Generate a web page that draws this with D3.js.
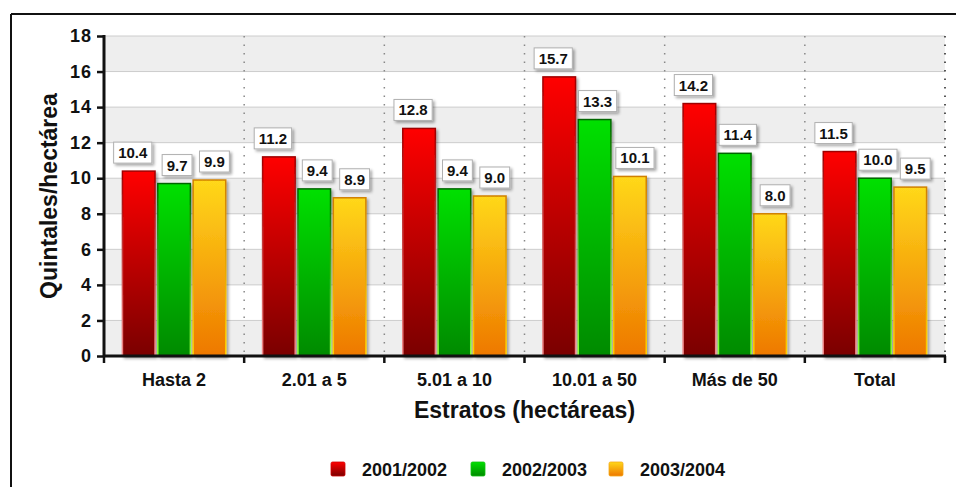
<!DOCTYPE html>
<html>
<head>
<meta charset="utf-8">
<script src="https://cdn.jsdelivr.net/npm/d3@7/dist/d3.min.js"></script>
<style>
  html, body { margin: 0; padding: 0; background: #fff; }
  svg { display: block; }
  text { font-family: "Liberation Sans", Arial, sans-serif; font-weight: bold; fill: #111; }
</style>
</head>
<body>
<svg id="chart" width="956" height="487"></svg>
<script>
// Rendimiento por estrato (quintales por hectárea)
const categories = ["Hasta 2", "2.01 a 5", "5.01 a 10", "10.01 a 50", "Más de 50", "Total"];
const seriesNames = ["2001/2002", "2002/2003", "2003/2004"];
const values2001 = [10.4, 11.2, 12.8, 15.7, 14.2, 11.5];
const values2002 = [9.7, 9.4, 9.4, 13.3, 11.4, 10.0];
const values2003 = [9.9, 8.9, 9.0, 10.1, 8.0, 9.5];
const yTicks = [0, 2, 4, 6, 8, 10, 12, 14, 16, 18];

const seriesValues = [values2001, values2002, values2003];
const palette = [
  { top: "#ff0000", bottom: "#7a0000", strokeTop: "#a00000", strokeBottom: "#f08a8a", legend: "#d00000" },
  { top: "#00e000", bottom: "#008a00", strokeTop: "#006600", strokeBottom: "#8cff3a", legend: "#10c010" },
  { top: "#ffd81a", bottom: "#ee7800", strokeTop: "#d08000", strokeBottom: "#ffd000", legend: "#f4a818" }
];

const svg = d3.select("#chart");
const defs = svg.append("defs");

palette.forEach((p, i) => {
  const g = defs.append("linearGradient").attr("id", "fill" + i)
    .attr("x1", 0).attr("y1", 0).attr("x2", 0).attr("y2", 1);
  g.append("stop").attr("offset", "0%").attr("stop-color", p.top);
  g.append("stop").attr("offset", "100%").attr("stop-color", p.bottom);
  const s = defs.append("linearGradient").attr("id", "stroke" + i)
    .attr("x1", 0).attr("y1", 0).attr("x2", 0).attr("y2", 1);
  s.append("stop").attr("offset", "0%").attr("stop-color", p.strokeTop);
  s.append("stop").attr("offset", "100%").attr("stop-color", p.strokeBottom);
});

const shadow = defs.append("filter").attr("id", "shadow")
  .attr("x", "-20%").attr("y", "-20%").attr("width", "150%").attr("height", "150%");
shadow.append("feGaussianBlur").attr("in", "SourceAlpha").attr("stdDeviation", 1.5).attr("result", "b");
shadow.append("feOffset").attr("in", "b").attr("dx", 2).attr("dy", 2).attr("result", "o");
shadow.append("feComponentTransfer").attr("in", "o").attr("result", "t")
  .append("feFuncA").attr("type", "linear").attr("slope", 0.35);
const merge = shadow.append("feMerge");
merge.append("feMergeNode").attr("in", "t");
merge.append("feMergeNode").attr("in", "SourceGraphic");

// Outer frame
svg.append("line").attr("x1", 11).attr("x2", 956).attr("y1", 14).attr("y2", 14)
  .attr("stroke", "#111").attr("stroke-width", 2);
svg.append("line").attr("x1", 11).attr("x2", 11).attr("y1", 14).attr("y2", 487)
  .attr("stroke", "#111").attr("stroke-width", 2);

const plotLeft = 104, plotRight = 945, plotTop = 36, plotBottom = 356;

const x = d3.scaleBand().domain(categories).range([plotLeft, plotRight]).padding(0);
const x1 = d3.scaleBand().domain(d3.range(seriesNames.length))
  .range([x.bandwidth() * 0.128, x.bandwidth() * 0.872]).paddingInner(0.05);
const y = d3.scaleLinear().domain([0, 18]).range([plotBottom, plotTop]);

// Alternating bands
const bands = d3.pairs(yTicks);
svg.append("g").selectAll("rect").data(bands).join("rect")
  .attr("x", plotLeft).attr("width", plotRight - plotLeft)
  .attr("y", d => y(d[1])).attr("height", d => y(d[0]) - y(d[1]))
  .attr("fill", (d, i) => i % 2 === 0 ? "#eeeeee" : "#ffffff");

// Horizontal gridlines
svg.append("g").selectAll("line").data(yTicks.slice(1)).join("line")
  .attr("x1", plotLeft).attr("x2", plotRight)
  .attr("y1", d => y(d)).attr("y2", d => y(d))
  .attr("stroke", "#cccccc").attr("stroke-width", 1);

// Dotted separators between categories
const seps = categories.slice(1).map(c => x(c)).concat([plotRight]);
svg.append("g").selectAll("line").data(seps).join("line")
  .attr("x1", d => d).attr("x2", d => d)
  .attr("y1", plotTop).attr("y2", plotBottom)
  .attr("stroke", (d, i) => i === seps.length - 1 ? "#222" : "#888")
  .attr("stroke-width", 1.5)
  .attr("stroke-dasharray", "1.5,7");

// Bars
const groups = svg.append("g").selectAll("g").data(categories).join("g")
  .attr("transform", d => `translate(${x(d)},0)`);

groups.selectAll("rect").data((c, ci) => seriesValues.map((vals, si) => ({ si, v: vals[ci] })))
  .join("rect")
  .attr("x", d => x1(d.si) + 0.5)
  .attr("width", x1.bandwidth() - 1)
  .attr("y", d => y(d.v))
  .attr("height", d => y(0) - y(d.v))
  .attr("fill", d => `url(#fill${d.si})`)
  .attr("stroke", d => `url(#stroke${d.si})`)
  .attr("stroke-width", 1.5)
  .attr("filter", "url(#shadow)");

// Value labels
const fmt = d3.format(".1f");
const labelShift = [-6, 3, 5];
groups.each(function (c, ci) {
  const g = d3.select(this);
  seriesValues.forEach((vals, si) => {
    const v = vals[ci];
    const cx = x1(si) + x1.bandwidth() / 2 + labelShift[si];
    const yb = y(v) - 8;
    const lg = g.append("g");
    const t = lg.append("text").attr("x", cx).attr("y", yb - 5)
      .attr("text-anchor", "middle").attr("font-size", 15).text(fmt(v));
    const w = t.node().getComputedTextLength() + 9;
    lg.insert("rect", "text")
      .attr("x", cx - w / 2).attr("y", yb - 21).attr("width", w).attr("height", 21)
      .attr("fill", "#fff").attr("stroke", "#b0b0b0").attr("stroke-width", 1)
      .attr("filter", "url(#shadow)");
  });
});

// Y axis
const yAxis = svg.append("g").attr("transform", `translate(${plotLeft},0)`)
  .call(d3.axisLeft(y).tickValues(yTicks).tickSize(7).tickPadding(5).tickFormat(d3.format("d")));
yAxis.select(".domain").attr("stroke", "#111").attr("stroke-width", 3)
  .attr("d", `M0,${plotTop - 1}V${plotBottom}`);
yAxis.selectAll(".tick line").attr("stroke", "#111").attr("stroke-width", 2.5);
yAxis.selectAll(".tick text").attr("font-size", 18).attr("font-family", "Liberation Sans, Arial, sans-serif")
  .attr("font-weight", "bold").attr("fill", "#111").attr("letter-spacing", 1);

// X axis
const xAxis = svg.append("g").attr("transform", `translate(0,${plotBottom})`)
  .call(d3.axisBottom(x).tickSize(0).tickPadding(17));
xAxis.select(".domain").attr("stroke", "#111").attr("stroke-width", 3)
  .attr("d", `M${plotLeft - 1},0H${plotRight + 1}`);
xAxis.selectAll(".tick text").attr("font-size", 18).attr("font-family", "Liberation Sans, Arial, sans-serif")
  .attr("font-weight", "bold").attr("fill", "#111");
xAxis.append("g").selectAll("line").data([plotLeft].concat(seps)).join("line")
  .attr("x1", d => d).attr("x2", d => d).attr("y1", 0).attr("y2", 7)
  .attr("stroke", "#111").attr("stroke-width", 2.5);

// Axis titles
svg.append("text").attr("x", (plotLeft + plotRight) / 2).attr("y", 418)
  .attr("text-anchor", "middle").attr("font-size", 23).text("Estratos (hectáreas)");
svg.append("text")
  .attr("transform", `translate(57,${(plotTop + plotBottom) / 2}) rotate(-90)`)
  .attr("text-anchor", "middle").attr("font-size", 23).text("Quintales/hectárea");

// Legend
const legendX = [331, 471, 609];
const legend = svg.append("g").selectAll("g").data(seriesNames).join("g")
  .attr("transform", (d, i) => `translate(${legendX[i]},462)`);
legend.append("rect").attr("width", 14).attr("height", 14).attr("rx", 1.5)
  .attr("fill", (d, i) => `url(#fill${i})`)
  .attr("stroke", (d, i) => palette[i].legend).attr("stroke-width", 0.8);
legend.append("text").attr("x", 31).attr("y", 14).attr("font-size", 18).text(d => d);
</script>
</body>
</html>
